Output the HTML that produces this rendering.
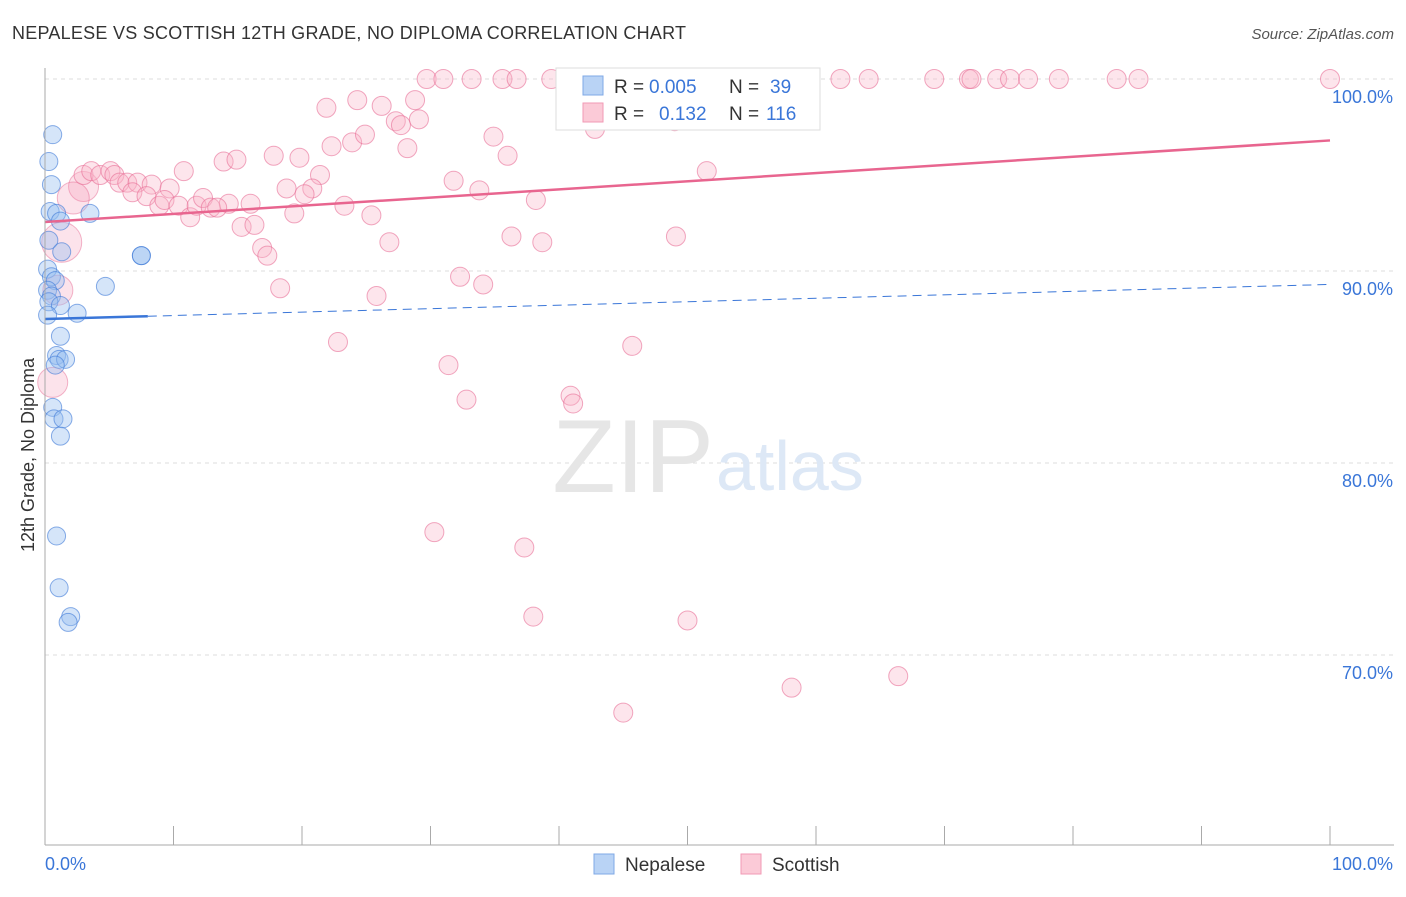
<!DOCTYPE html>
<html><head><meta charset="utf-8"><style>
body{margin:0;background:#fff;font-family:"Liberation Sans",sans-serif;}
svg text{font-family:"Liberation Sans",sans-serif;}
</style></head><body>
<svg id="chart" width="1406" height="892">
<text x="12" y="39" font-size="18" fill="#333" textLength="674">NEPALESE VS SCOTTISH 12TH GRADE, NO DIPLOMA CORRELATION CHART</text>
<text x="1394" y="39" font-size="15" fill="#555" text-anchor="end" font-style="italic">Source: ZipAtlas.com</text>
<text x="34" y="455" font-size="18" fill="#333" text-anchor="middle" transform="rotate(-90 34 455)">12th Grade, No Diploma</text>
<g id="grid"></g>
<text x="714" y="492" font-size="104" fill="#e6e6e6" text-anchor="end" font-family="Liberation Serif">ZIP</text>
<text x="716" y="490" font-size="70" fill="#dde8f6">atlas</text>
<g id="pts"></g>
<g id="trend"></g>
<g id="axes"></g>
<g>
<rect x="556" y="68" width="264" height="62" fill="#fff" stroke="#ddd"/>
<rect x="583" y="76" width="20" height="19" fill="#b9d3f5" stroke="#7fa8e6"/>
<text x="614" y="93" font-size="19" fill="#333">R =</text><text x="649" y="93" font-size="19" fill="#3a76d8">0.005</text>
<text x="729" y="93" font-size="19" fill="#333">N =</text><text x="770" y="93" font-size="19" fill="#3a76d8">39</text>
<rect x="583" y="103" width="20" height="19" fill="#fbcad7" stroke="#f19ab4"/>
<text x="614" y="120" font-size="19" fill="#333">R =</text><text x="659" y="120" font-size="19" fill="#3a76d8">0.132</text>
<text x="729" y="120" font-size="19" fill="#333">N =</text><text x="766" y="120" font-size="19" fill="#3a76d8">116</text>
</g>
<g><rect x="594" y="854" width="20" height="20" fill="#b9d3f5" stroke="#7fa8e6"/><text x="625" y="871" font-size="19" fill="#333">Nepalese</text></g>
<g><rect x="741" y="854" width="20" height="20" fill="#fbcad7" stroke="#f19ab4"/><text x="772" y="871" font-size="19" fill="#333">Scottish</text></g>
</svg>
<script>
const yTicks=[70,80,90,100];
const yTickLabels=["70.0%","80.0%","90.0%","100.0%"];
const xTickLabels=["0.0%","100.0%"];
const nepX=[0.6,0.3,0.5,0.4,0.9,3.5,1.2,0.3,1.3,7.5,7.5,0.2,0.5,0.8,0.2,4.7,0.5,0.3,1.2,2.5,0.2,1.2,0.9,1.1,1.6,0.8,0.6,0.7,1.4,1.2,0.9,1.1,2.0,1.8];
const nepY=[97.1,95.7,94.5,93.1,93.0,93.0,92.6,91.6,91.0,90.8,90.8,90.1,89.7,89.5,89.0,89.2,88.7,88.4,88.2,87.8,87.7,86.6,85.6,85.4,85.4,85.1,82.9,82.3,82.3,81.4,76.2,73.5,72.0,71.7];
const scoX=[29.7,31.0,33.2,35.6,36.7,39.4,41.6,43.2,44.7,46.3,47.6,51.0,52.2,59.2,61.9,64.1,69.2,71.9,72.1,74.1,75.1,76.5,78.9,83.4,85.1,100,
21.9,24.3,26.2,28.8,27.3,27.7,29.1,28.2,34.9,22.3,23.9,24.9,13.9,14.9,17.8,19.8,10.8,31.8,33.8,21.4,18.8,20.8,20.2,23.3,25.4,19.4,26.8,16.0,14.3,15.3,16.3,16.9,17.3,18.3,25.8,32.3,34.1,
3.0,3.6,4.3,5.1,5.4,5.8,6.4,7.2,8.3,9.7,6.8,7.9,8.9,9.3,10.4,11.3,11.8,12.3,12.9,13.4,
36.0,42.8,49.0,51.5,49.1,38.2,36.3,38.7,22.8,31.4,32.8,40.9,41.1,45.7,30.3,37.3,38.0,50.0,58.1,66.4,45.0];
const scoY=[100,100,100,100,100,100,100,100,100,100,100,100,100,100,100,100,100,100,100,100,100,100,100,100,100,100,
98.5,98.9,98.6,98.9,97.8,97.6,97.9,96.4,97.0,96.5,96.7,97.1,95.7,95.8,96.0,95.9,95.2,94.7,94.2,95.0,94.3,94.3,94.0,93.4,92.9,93.0,91.5,93.5,93.5,92.3,92.4,91.2,90.8,89.1,88.7,89.7,89.3,
95.0,95.2,95.0,95.2,95.0,94.6,94.6,94.6,94.5,94.3,94.1,93.9,93.4,93.7,93.4,92.8,93.4,93.8,93.3,93.3,
96.0,97.4,97.8,95.2,91.8,93.7,91.8,91.5,86.3,85.1,83.3,83.5,83.1,86.1,76.4,75.6,72.0,71.8,68.3,68.9,67.0];
const bigX=[3.0,2.2,1.3,1.0,0.6];
const bigY=[94.4,93.8,91.5,89.0,84.2];
const bigR=[15,16,20,15,15];
const scoTrend=[92.55,96.8];
const nepTrend=[87.5,89.3];
const NS="http://www.w3.org/2000/svg";
const X=v=>45+v*12.85, Y=v=>79+(100-v)*19.2;
function mk(t,a,p){const e=document.createElementNS(NS,t);for(const k in a)e.setAttribute(k,a[k]);p.appendChild(e);return e;}
const grid=document.getElementById('grid'),axes=document.getElementById('axes'),pts=document.getElementById('pts'),tr=document.getElementById('trend');
yTicks.forEach((t,i)=>{
 const l=mk('line',{x1:45,x2:1394,y1:Y(t),y2:Y(t),stroke:'#ddd','stroke-dasharray':'4 4'},grid);
 
 
 const tx=mk('text',{x:1393,y:Y(t)+24,'font-size':18,fill:'#3a76d8','text-anchor':'end'},axes);
 tx.textContent=yTickLabels[i];
 
 
});
mk('line',{x1:45,x2:45,y1:68,y2:845,stroke:'#aaa'},axes);
mk('line',{x1:45,x2:1394,y1:845,y2:845,stroke:'#aaa'},axes);
for(let i=0;i<=10;i++){const t=mk('line',{x1:X(i*10),x2:X(i*10),y1:826,y2:845,stroke:'#aaa'},axes);
 
 }
[[45,'start'],[1393,'end']].forEach((p,i)=>{const t=mk('text',{x:p[0],y:870,'font-size':18,fill:'#3a76d8','text-anchor':p[1]},axes);t.textContent=xTickLabels[i];
 
 });
bigX.forEach((v,i)=>{const c=mk('circle',{cx:X(v),cy:Y(bigY[i]),r:bigR[i],fill:'rgba(244,143,177,0.25)',stroke:'rgba(232,110,150,0.5)'},pts);
 
 });
scoX.forEach((v,i)=>{const c=mk('circle',{cx:X(v),cy:Y(scoY[i]),r:9.5,fill:'rgba(248,180,200,0.35)',stroke:'rgba(232,110,150,0.6)'},pts);
 
 });
nepX.forEach((v,i)=>{const c=mk('circle',{cx:X(v),cy:Y(nepY[i]),r:9,fill:'rgba(150,190,240,0.4)',stroke:'rgba(60,120,215,0.6)'},pts);
 
 });
const s=mk('line',{x1:X(0),y1:Y(scoTrend[0]),x2:X(100),y2:Y(scoTrend[1]),stroke:'#e8658f','stroke-width':2.5},tr);


const ny=x=>nepTrend[0]+(nepTrend[1]-nepTrend[0])*x/100;
const b1=mk('line',{x1:X(0),y1:Y(ny(0)),x2:X(8),y2:Y(ny(8)),stroke:'#3a76d8','stroke-width':2.5},tr);


const b2=mk('line',{x1:X(8),y1:Y(ny(8)),x2:X(100),y2:Y(ny(100)),stroke:'#3a76d8','stroke-width':1,'stroke-dasharray':'9 6'},tr);


</script>
</body></html>
